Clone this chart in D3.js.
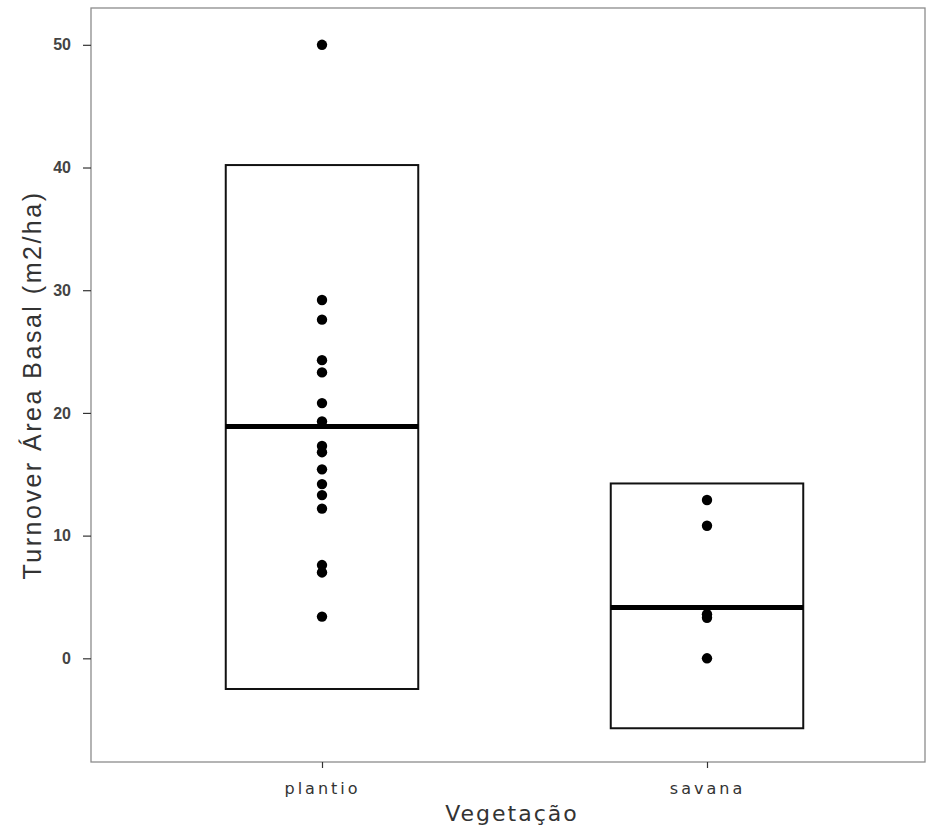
<!DOCTYPE html>
<html>
<head>
<meta charset="utf-8">
<script src="https://cdn.jsdelivr.net/npm/d3@7"></script>
<style>
  html, body { margin: 0; padding: 0; background: #fff; }
  svg { display: block; }
</style>
</head>
<body>
<svg id="chart" width="927" height="837"></svg>
<script>
// Vegetation types on the x axis
const categories = ["plantio", "savana"];

// Individual basal-area turnover observations per vegetation type
const plantioValues = [50, 29.2, 27.6, 24.3, 23.3, 20.8, 19.3, 17.3, 16.8, 15.4, 14.2, 13.3, 12.2, 7.6, 7.0, 3.4];
const savanaValues = [12.9, 10.8, 3.6, 3.3, 0.0];

// Crossbar summaries: centre line and lower / upper box edges
const centerValues = [18.9, 4.15];
const lowerValues = [-2.5, -5.7];
const upperValues = [40.2, 14.25];

// Axis ticks
const yTicks = [0, 10, 20, 30, 40, 50];

const svg = d3.select("#chart");
const panel = { left: 91, right: 938, top: 8, bottom: 762 };
const visibleRight = 925;

const x = d3.scalePoint()
  .domain(categories)
  .range([panel.left, panel.right])
  .padding(0.6);
const step = x.step();

const y = d3.scaleLinear()
  .domain([-8.45, 53])
  .range([panel.bottom, panel.top]);

// Panel background and border
svg.append("rect")
  .attr("x", panel.left).attr("y", panel.top)
  .attr("width", visibleRight - panel.left)
  .attr("height", panel.bottom - panel.top)
  .attr("fill", "#fff")
  .attr("stroke", "#8c8c8c")
  .attr("stroke-width", 1.3);

// Y axis
const yAxis = svg.append("g")
  .attr("transform", `translate(${panel.left},0)`)
  .call(d3.axisLeft(y).tickValues(yTicks).tickSize(8).tickPadding(12));
yAxis.select(".domain").remove();
yAxis.selectAll(".tick line").attr("stroke", "#333").attr("stroke-width", 1.2);
yAxis.selectAll(".tick text")
  .attr("fill", "#444")
  .style("font-family", "'Liberation Sans', Arial, sans-serif")
  .style("font-size", "16px")
  .style("font-weight", "bold");

// X axis
const xAxis = svg.append("g")
  .attr("transform", `translate(0,${panel.bottom})`)
  .call(d3.axisBottom(x).tickSize(6).tickPadding(15));
xAxis.select(".domain").remove();
xAxis.selectAll(".tick line").attr("stroke", "#333").attr("stroke-width", 1.2);
xAxis.selectAll(".tick text")
  .attr("fill", "#333")
  .style("font-family", "'DejaVu Sans', Verdana, sans-serif")
  .style("font-size", "16px")
  .style("letter-spacing", "3px");

// Axis titles
svg.append("text")
  .attr("x", 512)
  .attr("y", 821)
  .attr("text-anchor", "middle")
  .attr("fill", "#333")
  .style("font-family", "'DejaVu Sans', Verdana, sans-serif")
  .style("font-size", "22px")
  .style("letter-spacing", "2px")
  .text("Vegetação");

svg.append("text")
  .attr("transform", `translate(41,${(panel.top + panel.bottom) / 2}) rotate(-90)`)
  .attr("text-anchor", "middle")
  .attr("fill", "#333")
  .style("font-family", "'Liberation Sans', Arial, sans-serif")
  .style("font-size", "25px")
  .style("letter-spacing", "2.5px")
  .text("Turnover Área Basal (m2/ha)");

// Crossbars
const bars = categories.map((c, i) => ({
  cat: c, mid: centerValues[i], lo: lowerValues[i], hi: upperValues[i]
}));
const halfW = step * 0.25;

svg.append("g").selectAll("rect")
  .data(bars)
  .join("rect")
  .attr("x", d => x(d.cat) - halfW)
  .attr("y", d => y(d.hi))
  .attr("width", halfW * 2)
  .attr("height", d => y(d.lo) - y(d.hi))
  .attr("fill", "none")
  .attr("stroke", "#111")
  .attr("stroke-width", 2);

svg.append("g").selectAll("line")
  .data(bars)
  .join("line")
  .attr("x1", d => x(d.cat) - halfW)
  .attr("x2", d => x(d.cat) + halfW)
  .attr("y1", d => y(d.mid))
  .attr("y2", d => y(d.mid))
  .attr("stroke", "#000")
  .attr("stroke-width", 5);

// Observations
const points = [
  ...plantioValues.map(v => ({ cat: "plantio", v })),
  ...savanaValues.map(v => ({ cat: "savana", v }))
];
svg.append("g").selectAll("circle")
  .data(points)
  .join("circle")
  .attr("cx", d => x(d.cat))
  .attr("cy", d => y(d.v))
  .attr("r", 5.2)
  .attr("fill", "#000");
</script>
</body>
</html>
